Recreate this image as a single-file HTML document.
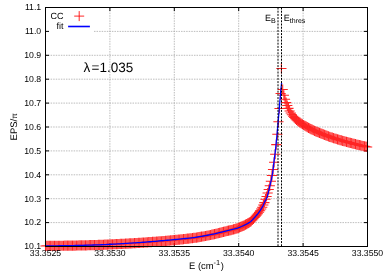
<!DOCTYPE html>
<html><head><meta charset="utf-8"><title>EPS fit</title>
<style>
html,body{margin:0;padding:0;background:#fff;}
body{width:390px;height:273px;overflow:hidden;}
svg{display:block;will-change:transform;transform:translateZ(0);}
text{font-family:"Liberation Sans",sans-serif;fill:#000;text-rendering:geometricPrecision;}
</style></head><body>
<svg width="390" height="273" viewBox="0 0 390 273">
<rect width="390" height="273" fill="#fff"/>
<g stroke="#acacac" stroke-width="0.8" stroke-dasharray="1.5 1.06" fill="none">
<line x1="45.5" y1="222.60" x2="367.5" y2="222.60"/><line x1="45.5" y1="198.70" x2="367.5" y2="198.70"/><line x1="45.5" y1="174.80" x2="367.5" y2="174.80"/><line x1="45.5" y1="150.90" x2="367.5" y2="150.90"/><line x1="45.5" y1="127.00" x2="367.5" y2="127.00"/><line x1="45.5" y1="103.10" x2="367.5" y2="103.10"/><line x1="45.5" y1="79.20" x2="367.5" y2="79.20"/><line x1="45.5" y1="55.30" x2="367.5" y2="55.30"/><line x1="94" y1="31.40" x2="367.5" y2="31.40"/><line x1="109.90" y1="7.5" x2="109.90" y2="246.5"/><line x1="174.30" y1="7.5" x2="174.30" y2="246.5"/><line x1="238.70" y1="7.5" x2="238.70" y2="246.5"/><line x1="303.10" y1="7.5" x2="303.10" y2="246.5"/>
</g>
<path d="M45.5,246.50h3.5M367.5,246.50h-3.5M45.5,222.60h3.5M367.5,222.60h-3.5M45.5,198.70h3.5M367.5,198.70h-3.5M45.5,174.80h3.5M367.5,174.80h-3.5M45.5,150.90h3.5M367.5,150.90h-3.5M45.5,127.00h3.5M367.5,127.00h-3.5M45.5,103.10h3.5M367.5,103.10h-3.5M45.5,79.20h3.5M367.5,79.20h-3.5M45.5,55.30h3.5M367.5,55.30h-3.5M45.5,31.40h3.5M367.5,31.40h-3.5M45.5,7.50h3.5M367.5,7.50h-3.5M45.50,246.5v-3.5M45.50,7.5v3.5M109.90,246.5v-3.5M109.90,7.5v3.5M174.30,246.5v-3.5M174.30,7.5v3.5M238.70,246.5v-3.5M238.70,7.5v3.5M303.10,246.5v-3.5M303.10,7.5v3.5M367.50,246.5v-3.5M367.50,7.5v3.5" stroke="#000" stroke-width="1" fill="none"/>
<path d="M275.50,93.40h10.2M280.60,88.30v10.2M274.42,108.50h10.2M279.52,103.40v10.2M273.34,121.80h10.2M278.44,116.70v10.2M272.26,134.30h10.2M277.36,129.20v10.2M271.18,144.60h10.2M276.28,139.50v10.2M270.10,154.20h10.2M275.20,149.10v10.2M269.02,162.30h10.2M274.12,157.20v10.2M267.94,169.50h10.2M273.04,164.40v10.2M266.86,175.40h10.2M271.96,170.30v10.2M265.78,181.20h10.2M270.88,176.10v10.2M264.70,185.80h10.2M269.80,180.70v10.2M263.62,189.50h10.2M268.72,184.40v10.2M262.54,193.00h10.2M267.64,187.90v10.2M261.46,196.50h10.2M266.56,191.40v10.2M260.38,199.20h10.2M265.48,194.10v10.2M259.30,202.61h10.2M264.40,197.51v10.2M258.22,205.04h10.2M263.32,199.94v10.2M257.14,207.15h10.2M262.24,202.05v10.2M256.06,209.01h10.2M261.16,203.91v10.2M254.98,210.71h10.2M260.08,205.61v10.2M253.89,212.26h10.2M258.99,207.16v10.2M252.79,213.69h10.2M257.89,208.59v10.2M251.69,215.03h10.2M256.79,209.93v10.2M250.58,216.30h10.2M255.68,211.20v10.2M249.47,217.54h10.2M254.57,212.44v10.2M248.35,218.78h10.2M253.45,213.68v10.2M247.22,219.97h10.2M252.32,214.87v10.2M246.09,221.06h10.2M251.19,215.96v10.2M244.96,222.01h10.2M250.06,216.91v10.2M243.81,222.80h10.2M248.91,217.70v10.2M242.66,223.47h10.2M247.76,218.37v10.2M241.51,224.09h10.2M246.61,218.99v10.2M240.35,224.70h10.2M245.45,219.60v10.2M239.18,225.29h10.2M244.28,220.19v10.2M238.01,225.86h10.2M243.11,220.76v10.2M236.83,226.40h10.2M241.93,221.30v10.2M235.64,226.92h10.2M240.74,221.82v10.2M234.45,227.40h10.2M239.55,222.30v10.2M233.26,227.86h10.2M238.36,222.76v10.2M232.05,228.29h10.2M237.15,223.19v10.2M230.84,228.70h10.2M235.94,223.60v10.2M229.62,229.07h10.2M234.72,223.97v10.2M228.40,229.41h10.2M233.50,224.31v10.2M227.17,229.73h10.2M232.27,224.63v10.2M225.93,230.04h10.2M231.03,224.94v10.2M224.69,230.33h10.2M229.79,225.23v10.2M223.44,230.63h10.2M228.54,225.53v10.2M222.19,230.93h10.2M227.29,225.83v10.2M220.93,231.24h10.2M226.03,226.14v10.2M219.66,231.55h10.2M224.76,226.45v10.2M218.38,231.87h10.2M223.48,226.77v10.2M217.10,232.20h10.2M222.20,227.10v10.2M215.81,232.53h10.2M220.91,227.43v10.2M214.52,232.86h10.2M219.62,227.76v10.2M213.23,233.19h10.2M218.33,228.09v10.2M211.94,233.51h10.2M217.04,228.41v10.2M210.65,233.83h10.2M215.75,228.73v10.2M209.36,234.14h10.2M214.46,229.04v10.2M208.07,234.44h10.2M213.17,229.34v10.2M206.78,234.72h10.2M211.88,229.62v10.2M205.49,234.99h10.2M210.59,229.89v10.2M204.20,235.26h10.2M209.30,230.16v10.2M202.91,235.51h10.2M208.01,230.41v10.2M201.62,235.77h10.2M206.72,230.67v10.2M200.33,236.02h10.2M205.43,230.92v10.2M199.04,236.26h10.2M204.14,231.16v10.2M197.75,236.50h10.2M202.85,231.40v10.2M196.46,236.72h10.2M201.56,231.62v10.2M195.17,236.94h10.2M200.27,231.84v10.2M193.88,237.16h10.2M198.98,232.06v10.2M192.59,237.36h10.2M197.69,232.26v10.2M191.30,237.56h10.2M196.40,232.46v10.2M190.01,237.74h10.2M195.11,232.64v10.2M188.72,237.92h10.2M193.82,232.82v10.2M187.43,238.09h10.2M192.53,232.99v10.2M186.14,238.25h10.2M191.24,233.15v10.2M184.85,238.41h10.2M189.95,233.31v10.2M183.56,238.57h10.2M188.66,233.47v10.2M182.27,238.72h10.2M187.37,233.62v10.2M180.98,238.86h10.2M186.08,233.76v10.2M179.69,239.01h10.2M184.79,233.91v10.2M178.40,239.15h10.2M183.50,234.05v10.2M177.11,239.29h10.2M182.21,234.19v10.2M175.82,239.42h10.2M180.92,234.32v10.2M174.53,239.56h10.2M179.63,234.46v10.2M173.24,239.69h10.2M178.34,234.59v10.2M171.95,239.82h10.2M177.05,234.72v10.2M170.66,239.95h10.2M175.76,234.85v10.2M169.37,240.08h10.2M174.47,234.98v10.2M168.08,240.21h10.2M173.18,235.11v10.2M166.79,240.34h10.2M171.89,235.24v10.2M165.50,240.46h10.2M170.60,235.36v10.2M164.21,240.58h10.2M169.31,235.48v10.2M162.92,240.70h10.2M168.02,235.60v10.2M161.63,240.82h10.2M166.73,235.72v10.2M160.34,240.94h10.2M165.44,235.84v10.2M159.05,241.04h10.2M164.15,235.94v10.2M157.76,241.14h10.2M162.86,236.04v10.2M156.47,241.24h10.2M161.57,236.14v10.2M155.18,241.34h10.2M160.28,236.24v10.2M153.89,241.44h10.2M158.99,236.34v10.2M152.60,241.54h10.2M157.70,236.44v10.2M151.31,241.64h10.2M156.41,236.54v10.2M150.02,241.74h10.2M155.12,236.64v10.2M148.73,241.84h10.2M153.83,236.74v10.2M147.44,241.93h10.2M152.54,236.83v10.2M146.15,242.03h10.2M151.25,236.93v10.2M144.86,242.13h10.2M149.96,237.03v10.2M143.57,242.22h10.2M148.67,237.12v10.2M142.28,242.31h10.2M147.38,237.21v10.2M140.99,242.41h10.2M146.09,237.31v10.2M139.70,242.50h10.2M144.80,237.40v10.2M138.41,242.58h10.2M143.51,237.48v10.2M137.12,242.67h10.2M142.22,237.57v10.2M135.83,242.76h10.2M140.93,237.66v10.2M134.54,242.84h10.2M139.64,237.74v10.2M133.25,242.92h10.2M138.35,237.82v10.2M131.96,243.01h10.2M137.06,237.91v10.2M130.67,243.09h10.2M135.77,237.99v10.2M129.38,243.17h10.2M134.48,238.07v10.2M128.09,243.24h10.2M133.19,238.14v10.2M126.80,243.32h10.2M131.90,238.22v10.2M125.51,243.40h10.2M130.61,238.30v10.2M124.22,243.47h10.2M129.32,238.37v10.2M122.93,243.55h10.2M128.03,238.45v10.2M121.64,243.62h10.2M126.74,238.52v10.2M120.35,243.69h10.2M125.45,238.59v10.2M119.06,243.76h10.2M124.16,238.66v10.2M117.77,243.83h10.2M122.87,238.73v10.2M116.48,243.89h10.2M121.58,238.79v10.2M115.19,243.96h10.2M120.29,238.86v10.2M113.90,244.02h10.2M119.00,238.92v10.2M112.61,244.09h10.2M117.71,238.99v10.2M111.32,244.15h10.2M116.42,239.05v10.2M110.03,244.21h10.2M115.13,239.11v10.2M108.74,244.27h10.2M113.84,239.17v10.2M107.45,244.33h10.2M112.55,239.23v10.2M106.16,244.39h10.2M111.26,239.29v10.2M104.87,244.45h10.2M109.97,239.35v10.2M103.58,244.52h10.2M108.68,239.42v10.2M102.29,244.58h10.2M107.39,239.48v10.2M101.00,244.64h10.2M106.10,239.54v10.2M99.71,244.70h10.2M104.81,239.60v10.2M98.42,244.75h10.2M103.52,239.65v10.2M97.13,244.80h10.2M102.23,239.70v10.2M95.84,244.85h10.2M100.94,239.75v10.2M94.55,244.90h10.2M99.65,239.80v10.2M93.26,244.94h10.2M98.36,239.84v10.2M91.97,244.98h10.2M97.07,239.88v10.2M90.68,245.03h10.2M95.78,239.93v10.2M89.39,245.07h10.2M94.49,239.97v10.2M88.10,245.11h10.2M93.20,240.01v10.2M86.81,245.15h10.2M91.91,240.05v10.2M85.52,245.18h10.2M90.62,240.08v10.2M84.23,245.22h10.2M89.33,240.12v10.2M82.94,245.26h10.2M88.04,240.16v10.2M81.65,245.29h10.2M86.75,240.19v10.2M80.36,245.32h10.2M85.46,240.22v10.2M79.07,245.36h10.2M84.17,240.26v10.2M77.78,245.39h10.2M82.88,240.29v10.2M76.49,245.42h10.2M81.59,240.32v10.2M75.20,245.44h10.2M80.30,240.34v10.2M73.91,245.47h10.2M79.01,240.37v10.2M72.62,245.50h10.2M77.72,240.40v10.2M71.33,245.52h10.2M76.43,240.42v10.2M70.04,245.54h10.2M75.14,240.44v10.2M68.75,245.56h10.2M73.85,240.46v10.2M67.46,245.59h10.2M72.56,240.49v10.2M66.17,245.61h10.2M71.27,240.51v10.2M64.88,245.63h10.2M69.98,240.53v10.2M63.59,245.65h10.2M68.69,240.55v10.2M62.30,245.67h10.2M67.40,240.57v10.2M61.01,245.69h10.2M66.11,240.59v10.2M59.72,245.71h10.2M64.82,240.61v10.2M58.43,245.73h10.2M63.53,240.63v10.2M57.14,245.74h10.2M62.24,240.64v10.2M55.85,245.76h10.2M60.95,240.66v10.2M54.56,245.78h10.2M59.66,240.68v10.2M53.27,245.79h10.2M58.37,240.69v10.2M51.98,245.81h10.2M57.08,240.71v10.2M50.69,245.82h10.2M55.79,240.72v10.2M49.40,245.83h10.2M54.50,240.73v10.2M48.11,245.85h10.2M53.21,240.75v10.2M46.82,245.86h10.2M51.92,240.76v10.2M45.53,245.87h10.2M50.63,240.77v10.2M44.24,245.88h10.2M49.34,240.78v10.2M42.95,245.89h10.2M48.05,240.79v10.2M41.66,245.89h10.2M46.76,240.79v10.2M40.37,245.90h10.2M45.47,240.80v10.2M276.30,68.40h10.2M281.40,63.30v10.2M277.60,89.50h10.2M282.70,84.40v10.2M278.75,95.29h10.2M283.85,90.19v10.2M279.90,99.29h10.2M285.00,94.19v10.2M281.05,102.60h10.2M286.15,97.50v10.2M282.20,105.52h10.2M287.30,100.42v10.2M283.35,108.38h10.2M288.45,103.28v10.2M284.50,111.05h10.2M289.60,105.95v10.2M285.65,113.03h10.2M290.75,107.93v10.2M286.80,114.73h10.2M291.90,109.63v10.2M287.96,116.25h10.2M293.06,111.15v10.2M289.12,117.59h10.2M294.22,112.49v10.2M290.28,118.81h10.2M295.38,113.71v10.2M291.45,119.91h10.2M296.55,114.81v10.2M292.63,120.91h10.2M297.73,115.81v10.2M293.80,121.83h10.2M298.90,116.73v10.2M294.98,122.68h10.2M300.08,117.58v10.2M296.17,123.48h10.2M301.27,118.38v10.2M297.36,124.25h10.2M302.46,119.15v10.2M298.55,125.01h10.2M303.65,119.91v10.2M299.75,125.75h10.2M304.85,120.65v10.2M300.95,126.46h10.2M306.05,121.36v10.2M302.16,127.14h10.2M307.26,122.04v10.2M303.37,127.80h10.2M308.47,122.70v10.2M304.58,128.44h10.2M309.68,123.34v10.2M305.80,129.06h10.2M310.90,123.96v10.2M307.03,129.66h10.2M312.13,124.56v10.2M308.25,130.24h10.2M313.35,125.14v10.2M309.49,130.80h10.2M314.59,125.70v10.2M310.72,131.34h10.2M315.82,126.24v10.2M311.96,131.87h10.2M317.06,126.77v10.2M313.21,132.39h10.2M318.31,127.29v10.2M314.46,132.90h10.2M319.56,127.80v10.2M315.71,133.40h10.2M320.81,128.30v10.2M316.97,133.91h10.2M322.07,128.81v10.2M318.23,134.41h10.2M323.33,129.31v10.2M319.50,134.91h10.2M324.60,129.81v10.2M320.77,135.39h10.2M325.87,130.29v10.2M322.04,135.87h10.2M327.14,130.77v10.2M323.32,136.34h10.2M328.42,131.24v10.2M324.61,136.80h10.2M329.71,131.70v10.2M325.90,137.24h10.2M331.00,132.14v10.2M327.19,137.67h10.2M332.29,132.57v10.2M328.48,138.09h10.2M333.58,132.99v10.2M329.77,138.49h10.2M334.87,133.39v10.2M331.06,138.89h10.2M336.16,133.79v10.2M332.35,139.28h10.2M337.45,134.18v10.2M333.64,139.66h10.2M338.74,134.56v10.2M334.93,140.04h10.2M340.03,134.94v10.2M336.22,140.41h10.2M341.32,135.31v10.2M337.51,140.78h10.2M342.61,135.68v10.2M338.80,141.15h10.2M343.90,136.05v10.2M340.09,141.51h10.2M345.19,136.41v10.2M341.38,141.86h10.2M346.48,136.76v10.2M342.67,142.21h10.2M347.77,137.11v10.2M343.96,142.55h10.2M349.06,137.45v10.2M345.25,142.89h10.2M350.35,137.79v10.2M346.54,143.22h10.2M351.64,138.12v10.2M347.83,143.56h10.2M352.93,138.46v10.2M349.12,143.88h10.2M354.22,138.78v10.2M350.41,144.21h10.2M355.51,139.11v10.2M351.70,144.53h10.2M356.80,139.43v10.2M352.99,144.84h10.2M358.09,139.74v10.2M354.28,145.16h10.2M359.38,140.06v10.2M355.57,145.46h10.2M360.67,140.36v10.2M356.86,145.77h10.2M361.96,140.67v10.2M358.15,146.07h10.2M363.25,140.97v10.2M359.44,146.36h10.2M364.54,141.26v10.2M360.73,146.65h10.2M365.83,141.55v10.2M362.02,146.94h10.2M367.12,141.84v10.2" stroke="#ff0000" stroke-width="1.05" stroke-opacity="0.86" fill="none"/>
<path d="M45.50,245.90 L47.50,245.89 L49.50,245.87 L51.50,245.85 L53.50,245.83 L55.50,245.81 L57.50,245.78 L59.50,245.76 L61.50,245.73 L63.50,245.70 L65.50,245.67 L67.50,245.63 L69.50,245.60 L71.50,245.56 L73.50,245.53 L75.50,245.49 L77.50,245.45 L79.50,245.41 L81.50,245.36 L83.50,245.31 L85.50,245.26 L87.50,245.21 L89.50,245.15 L91.50,245.09 L93.50,245.02 L95.50,244.96 L97.50,244.89 L99.50,244.82 L101.50,244.74 L103.50,244.66 L105.50,244.57 L107.50,244.48 L109.50,244.38 L111.50,244.27 L113.50,244.16 L115.50,244.05 L117.50,243.94 L119.50,243.83 L121.50,243.71 L123.50,243.60 L125.50,243.47 L127.50,243.35 L129.50,243.22 L131.50,243.09 L133.50,242.95 L135.50,242.82 L137.50,242.68 L139.50,242.54 L141.50,242.39 L143.50,242.24 L145.50,242.09 L147.50,241.93 L149.50,241.77 L151.50,241.61 L153.50,241.45 L155.50,241.28 L157.50,241.11 L159.50,240.94 L161.50,240.77 L163.50,240.60 L165.50,240.43 L167.50,240.26 L169.50,240.08 L171.50,239.90 L173.50,239.71 L175.50,239.51 L177.50,239.32 L179.50,239.12 L181.50,238.92 L183.50,238.71 L185.50,238.50 L187.50,238.28 L189.50,238.05 L191.50,237.81 L193.50,237.55 L195.50,237.29 L197.50,237.00 L199.50,236.69 L201.50,236.36 L203.50,236.00 L205.50,235.64 L207.50,235.26 L209.50,234.86 L211.50,234.46 L213.50,234.02 L215.50,233.56 L217.50,233.07 L219.50,232.57 L221.50,232.06 L223.50,231.56 L225.50,231.07 L227.50,230.60 L229.50,230.15 L231.50,229.69 L233.50,229.21 L235.50,228.65 L237.50,228.02 L239.50,227.29 L241.50,226.49 L243.50,225.59 L245.50,224.62 L247.50,223.58 L249.50,222.41 L250.00,222.05 L250.40,221.74 L250.80,221.41 L251.20,221.06 L251.60,220.68 L252.00,220.30 L252.40,219.89 L252.80,219.48 L253.20,219.05 L253.60,218.62 L254.00,218.18 L254.40,217.73 L254.80,217.28 L255.20,216.84 L255.60,216.39 L256.00,215.94 L256.40,215.48 L256.80,215.01 L257.20,214.54 L257.60,214.05 L258.00,213.55 L258.40,213.03 L258.80,212.51 L259.20,211.96 L259.60,211.40 L260.00,210.82 L260.40,210.22 L260.80,209.59 L261.20,208.94 L261.60,208.27 L262.00,207.58 L262.40,206.86 L262.80,206.11 L263.20,205.30 L263.60,204.42 L264.00,203.52 L264.40,202.61 L264.80,201.73 L265.20,200.90 L265.60,200.16 L266.00,199.46 L266.40,198.70 L266.80,197.80 L267.20,196.67 L267.60,195.32 L268.00,193.79 L268.40,192.15 L268.80,190.44 L269.20,188.70 L269.60,187.00 L270.00,185.35 L270.40,183.72 L270.80,182.06 L271.20,180.32 L271.60,178.46 L272.00,176.44 L272.40,174.20 L272.80,171.53 L273.20,168.38 L273.60,165.00 L274.00,161.62 L274.40,158.44 L274.80,155.39 L275.20,152.21 L275.60,148.71 L276.00,144.93 L276.40,140.94 L276.80,136.77 L277.20,132.48 L277.60,128.10 L278.00,123.56 L278.40,118.81 L278.80,114.00 L279.20,109.19 L279.60,104.42 L280.00,99.66 L280.40,95.09 L280.80,90.83 L281.20,86.80 L281.60,83.00 L281.60,83.00" stroke="#0000ff" stroke-width="1.3" fill="none" stroke-linejoin="round"/>
<rect x="45.5" y="7.5" width="322.0" height="239.0" fill="none" stroke="#000" stroke-width="1"/>
<line x1="278.0" y1="7.5" x2="278.0" y2="246.5" stroke="#000" stroke-width="1" stroke-dasharray="2 1.2"/>
<line x1="281.5" y1="7.5" x2="281.5" y2="246.5" stroke="#000" stroke-width="1" stroke-dasharray="2 1.2"/>
<g font-size="8.7">
<text x="41.2" y="249.30" text-anchor="end">10.1</text><text x="41.2" y="225.40" text-anchor="end">10.2</text><text x="41.2" y="201.50" text-anchor="end">10.3</text><text x="41.2" y="177.60" text-anchor="end">10.4</text><text x="41.2" y="153.70" text-anchor="end">10.5</text><text x="41.2" y="129.80" text-anchor="end">10.6</text><text x="41.2" y="105.90" text-anchor="end">10.7</text><text x="41.2" y="82.00" text-anchor="end">10.8</text><text x="41.2" y="58.10" text-anchor="end">10.9</text><text x="41.2" y="34.20" text-anchor="end">11.0</text><text x="41.2" y="10.30" text-anchor="end">11.1</text>
<text x="45.50" y="256.4" text-anchor="middle">33.3525</text><text x="109.90" y="256.4" text-anchor="middle">33.3530</text><text x="174.30" y="256.4" text-anchor="middle">33.3535</text><text x="238.70" y="256.4" text-anchor="middle">33.3540</text><text x="303.10" y="256.4" text-anchor="middle">33.3545</text><text x="367.50" y="256.4" text-anchor="middle">33.3550</text>
</g>
<g font-size="9">
<text x="63.6" y="19.2" text-anchor="end">CC</text>
<text x="63.6" y="29.3" text-anchor="end">fit</text>
<text x="264.9" y="21.2">E<tspan font-size="7.1" dy="2.2">B</tspan></text>
<text x="283.8" y="21.2">E<tspan font-size="7.0" dy="2.2">thres</tspan></text>
<text x="206.5" y="269.3" text-anchor="middle" font-size="9.4">E (cm<tspan font-size="7.4" dy="-4">-1</tspan><tspan dy="4" dx="0.6">)</tspan></text>
<text transform="translate(17.3,126.8) rotate(-90)" text-anchor="middle" font-size="9.5">EPS/<tspan font-size="8">π</tspan></text>
</g>
<text x="83.6" y="71.5" font-size="13.5">λ<tspan dx="1.2">=1.035</tspan></text>
<path d="M74.2,16.1h10M79.2,11.1v10" stroke="#ff0000" stroke-width="0.85" fill="none"/>
<line x1="68.1" y1="26.5" x2="89.9" y2="26.5" stroke="#0000ff" stroke-width="1.6"/>
</svg>
</body></html>
